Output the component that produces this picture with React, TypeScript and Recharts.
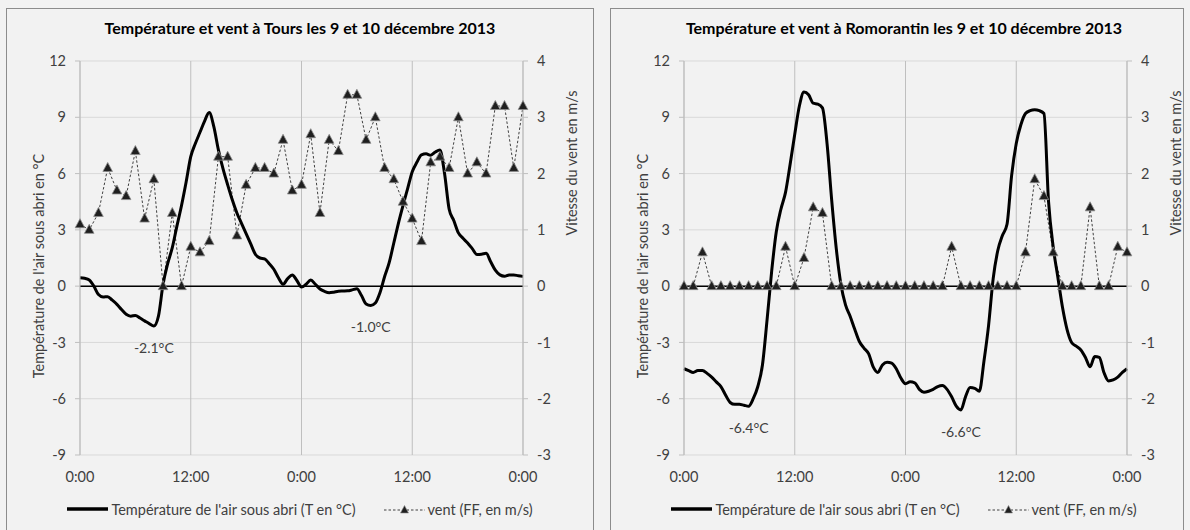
import { ComposedChart, Line, XAxis, YAxis, CartesianGrid, ReferenceLine } from 'recharts'

const FONT = 'Lato, "Open Sans", sans-serif'

// hours on the x axis, temperature (left) and wind (right) ticks
const hourTicks = [0, 12, 24, 36, 48]
const tempTicks = [-9, -6, -3, 0, 3, 6, 9, 12]
const windTicks = [-3, -2, -1, 0, 1, 2, 3, 4]

// Tours: temperature every 30 min (0:00 day 1 -> 0:00 day 3), wind every hour
const toursTemp = [
  0.45, 0.42, 0.33, 0.0, -0.45, -0.58, -0.56, -0.75, -0.97, -1.25,
  -1.5, -1.6, -1.56, -1.7, -1.85, -2.0, -2.13, -1.6, 0.1, 1.2,
  2.05, 3.2, 4.3, 5.55, 6.9, 7.6, 8.2, 8.8, 9.25, 8.5,
  7.25, 6.25, 5.4, 4.6, 3.9, 3.35, 2.8, 2.25, 1.7, 1.5,
  1.45, 1.2, 0.9, 0.45, 0.1, 0.4, 0.6, 0.3, -0.05, 0.1,
  0.33, 0.1, -0.15, -0.28, -0.35, -0.32, -0.27, -0.26, -0.25, -0.2,
  -0.14, -0.5, -0.95, -1.03, -0.9, -0.35, 0.5, 1.25, 2.3, 3.35,
  4.3, 5.2, 6.1, 6.6, 7.0, 7.05, 6.98, 7.15, 7.25, 6.0,
  4.1, 3.5, 2.84, 2.55, 2.3, 2.0, 1.69, 1.7, 1.75, 1.3,
  0.85, 0.6, 0.53, 0.6, 0.6, 0.55, 0.52,
]
const toursWind = [
  1.1, 1.0, 1.3, 2.1, 1.7, 1.6, 2.4, 1.2, 1.9, 0, 1.3, 0,
  0.7, 0.6, 0.8, 2.3, 2.3, 0.9, 1.8, 2.1, 2.1, 2.0, 2.6, 1.7,
  1.8, 2.7, 1.3, 2.6, 2.4, 3.4, 3.4, 2.6, 3.0, 2.1, 1.9, 1.5,
  1.2, 0.8, 2.2, 2.3, 2.1, 3.0, 2.0, 2.2, 2.0, 3.2, 3.2, 2.1, 3.2,
]
const toursLows = [8, 31.5]

// Romorantin
const romoTemp = [
  -4.4, -4.5, -4.6, -4.5, -4.5, -4.65, -4.85, -5.1, -5.35, -5.8,
  -6.2, -6.3, -6.3, -6.35, -6.4, -6.0, -5.35, -4.2, -1.8, 0.8,
  2.9, 4.1, 5.0, 6.5, 8.1, 9.6, 10.35, 10.2, 9.75, 9.7,
  9.5, 7.6, 4.6, 2.0, 0.1, -1.0, -1.6, -2.3, -2.95, -3.3,
  -3.6, -4.3, -4.6, -4.2, -4.05, -4.1, -4.4, -4.9, -5.2, -5.1,
  -5.15, -5.5, -5.65, -5.6, -5.5, -5.35, -5.3, -5.5, -5.9, -6.4,
  -6.6, -5.9, -5.4, -5.45, -5.6, -4.0, -2.1, 0.4, 1.9, 2.7,
  3.3, 5.9, 7.6, 8.6, 9.2, 9.35, 9.4, 9.35, 9.2, 4.5,
  2.1, 0.5, -1.1, -2.3, -3.0, -3.2, -3.4, -3.8, -4.3, -3.75,
  -3.8, -4.6, -5.05, -5.0, -4.85, -4.6, -4.4,
]
const romoWind = [
  0, 0, 0.6, 0, 0, 0, 0, 0, 0, 0, 0, 0.7,
  0, 0.5, 1.4, 1.3, 0, 0, 0, 0, 0, 0, 0, 0,
  0, 0, 0, 0, 0, 0.7, 0, 0, 0, 0, 0, 0,
  0, 0.6, 1.9, 1.6, 0.6, 0, 0, 0, 1.4, 0, 0, 0.7, 0.6,
]
const romoLows = [7, 30]

function buildRows(temp: number[], wind: number[]) {
  return temp.map((t, i) => ({
    h: i / 2,
    temp: t,
    wind: i % 2 === 0 ? wind[i / 2] : null,
  }))
}

function renderWindDot(props: any) {
  const { cx, cy, index, payload } = props
  if (payload == null || payload.wind == null || cx == null || cy == null) {
    return <g key={`w-${index}`} />
  }
  return (
    <polygon
      key={`w-${index}`}
      points={`${cx},${cy - 5.5} ${cx - 4.8},${cy + 3.5} ${cx + 4.8},${cy + 3.5}`}
      fill="#1f1f1f"
      stroke="#8c8c8c"
      strokeWidth={0.8}
    />
  )
}

const lowLabel = (lows: number[]) => (props: any) => {
  const { x, y, value, index } = props
  if (!lows.includes(index / 2)) return null
  return (
    <text key={`l-${index}`} x={x} y={y + 27} textAnchor="middle" fontSize={14} fontFamily={FONT} fill="#404040">
      {`${Number(value).toFixed(1)}°C`}
    </text>
  )
}

const tickStyle = { fill: '#404040', fontSize: 14.5, fontFamily: FONT }

interface PanelProps {
  left: number
  width: number
  title: string
  temp: number[]
  wind: number[]
  lows: number[]
}

function Panel({ left, width, title, temp, wind, lows }: PanelProps) {
  const rows = buildRows(temp, wind)
  return (
    <div
      style={{
        position: 'absolute',
        left,
        top: 8,
        width,
        height: 530,
        boxSizing: 'border-box',
        border: '1px solid #8c8c8c',
      }}
    >
      <div style={{ position: 'absolute', left: -1, top: -1, width: 588, height: 522 }}>
        <div
          style={{
            position: 'absolute',
            left: 0,
            top: 8,
            width: 588,
            height: 24,
            lineHeight: '24px',
            textAlign: 'center',
            fontWeight: 700,
            fontSize: 16,
            color: '#000',
          }}
        >
          {title}
        </div>
        <ComposedChart
          width={588}
          height={522}
          data={rows}
          margin={{ top: 53, right: 11, bottom: 45, left: 14 }}
        >
          <CartesianGrid yAxisId="t" vertical={false} stroke="#d9d9d9" />
          <CartesianGrid yAxisId="t" horizontal={false} stroke="#bfbfbf" />
          <XAxis
            dataKey="h"
            type="number"
            domain={[0, 48]}
            ticks={hourTicks}
            interval={0}
            tickFormatter={(h: number) => `${h % 24}:00`}
            axisLine={false}
            tickLine={false}
            tickSize={0}
            tickMargin={17}
            height={30}
            tick={tickStyle}
          />
          <YAxis
            yAxisId="t"
            domain={[-9, 12]}
            ticks={tempTicks}
            interval={0}
            width={60}
            axisLine={{ stroke: '#bfbfbf' }}
            tickLine={{ stroke: '#bfbfbf' }}
            tickSize={5}
            tickMargin={9}
            tick={tickStyle}
          />
          <YAxis
            yAxisId="w"
            orientation="right"
            domain={[-3, 4]}
            ticks={windTicks}
            interval={0}
            width={60}
            axisLine={{ stroke: '#bfbfbf' }}
            tickLine={{ stroke: '#bfbfbf' }}
            tickSize={5}
            tickMargin={9}
            tick={tickStyle}
          />
          <ReferenceLine yAxisId="t" y={0} stroke="#000" strokeWidth={1.5} />
          <Line
            yAxisId="w"
            dataKey="wind"
            type="linear"
            connectNulls
            stroke="#404040"
            strokeWidth={1}
            strokeDasharray="2.5 2"
            dot={renderWindDot}
            activeDot={false}
            isAnimationActive={false}
          />
          <Line
            yAxisId="t"
            dataKey="temp"
            type="monotone"
            stroke="#000"
            strokeWidth={3}
            dot={false}
            activeDot={false}
            label={lowLabel(lows)}
            isAnimationActive={false}
          />
        </ComposedChart>
        <div
          style={{
            position: 'absolute',
            left: 32,
            top: 258,
            transform: 'translate(-50%, -50%) rotate(-90deg)',
            whiteSpace: 'nowrap',
            fontSize: 14.5,
            color: '#404040',
          }}
        >
          Température de l'air sous abri en °C
        </div>
        <div
          style={{
            position: 'absolute',
            left: 565,
            top: 155,
            transform: 'translate(-50%, -50%) rotate(-90deg)',
            whiteSpace: 'nowrap',
            fontSize: 14.5,
            color: '#404040',
          }}
        >
          Vitesse du vent en m/s
        </div>
        <div
          style={{
            position: 'absolute',
            left: 0,
            top: 491,
            width: 588,
            height: 20,
            display: 'flex',
            justifyContent: 'center',
            alignItems: 'center',
            fontSize: 14.5,
            color: '#404040',
          }}
        >
          <svg width={41} height={10}>
            <line x1={0} y1={5} x2={41} y2={5} stroke="#000" strokeWidth={3.5} />
          </svg>
          <span style={{ marginLeft: 3 }}>Température de l'air sous abri (T en °C)</span>
          <svg width={41} height={10} style={{ marginLeft: 28 }}>
            <line x1={0} y1={6} x2={41} y2={6} stroke="#404040" strokeWidth={1} strokeDasharray="2.5 2" />
            <polygon points="20.5,1.5 16.5,9 24.5,9" fill="#1f1f1f" stroke="#8c8c8c" strokeWidth={0.6} />
          </svg>
          <span style={{ marginLeft: 3 }}>vent (FF, en m/s)</span>
        </div>
      </div>
    </div>
  )
}

export default function App() {
  return (
    <div
      style={{
        position: 'absolute',
        left: 0,
        top: 0,
        width: 1190,
        height: 530,
        overflow: 'hidden',
        background: '#f2f2f2',
        fontFamily: FONT,
      }}
    >
      <Panel
        left={6}
        width={588}
        title="Température et vent à Tours les 9 et 10 décembre 2013"
        temp={toursTemp}
        wind={toursWind}
        lows={toursLows}
      />
      <Panel
        left={610}
        width={574}
        title="Température et vent à Romorantin les 9 et 10 décembre 2013"
        temp={romoTemp}
        wind={romoWind}
        lows={romoLows}
      />
    </div>
  )
}
